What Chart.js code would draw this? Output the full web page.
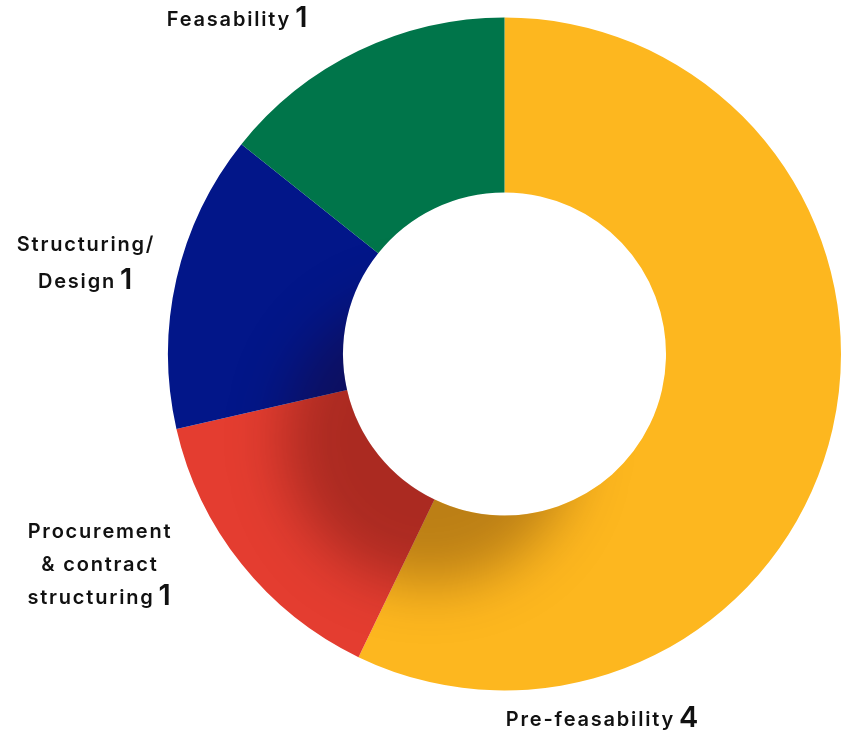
<!DOCTYPE html>
<html lang="en">
<head>
<meta charset="UTF-8">
<title>Projects by stage</title>
<script src="https://cdn.jsdelivr.net/npm/chart.js"></script>
<style>
  html, body { margin: 0; padding: 0; background: #fff; }
  .wrap { width: 841px; height: 736px; position: relative; }
</style>
</head>
<body>
<div class="wrap"><canvas id="stageChart" width="841" height="736"></canvas></div>
<script>
// data
const stages = ['Pre-feasability', 'Procurement & contract structuring', 'Structuring/ Design', 'Feasability'];
const counts = [4, 1, 1, 1];
const colors = ['#FDB71F', '#E43D30', '#021689', '#00754A'];
// label text split in lines, the count is drawn bigger after the last line
const labelLines = [
  ['Pre-feasability'],
  ['Procurement', '& contract', 'structuring'],
  ['Structuring/', 'Design'],
  ['Feasability']
];
const labelPos = [
  { x: 603, y: 720 },
  { x: 100, y: 532 },
  { x: 86, y: 245 },
  { x: 238, y: 20 }
];
const lineGap = [0, 33, 37, 0];

// soft shadow cast from the hole towards bottom-left
const ringShadow = {
  id: 'ringShadow',
  afterDatasetsDraw(chart) {
    const arc = chart.getDatasetMeta(0).data[0];
    const { x, y, innerRadius, outerRadius } = arc.getProps(['x', 'y', 'innerRadius', 'outerRadius'], true);
    const ctx = chart.ctx;
    ctx.save();
    ctx.beginPath();
    ctx.arc(x, y, outerRadius, 0, Math.PI * 2);
    ctx.arc(x, y, innerRadius, 0, Math.PI * 2, true);
    ctx.clip();
    ctx.filter = 'blur(28px)';
    ctx.fillStyle = 'rgba(40,0,0,0.30)';
    ctx.beginPath();
    ctx.arc(x - 75, y + 85, innerRadius * 0.9, 0, Math.PI * 2);
    ctx.fill();
    ctx.restore();
  }
};

const txtFont = '600 20px Inter, "Open Sans", sans-serif';
const numFont = '600 29px Inter, "Open Sans", sans-serif';

const stageLabels = {
  id: 'stageLabels',
  afterDraw(chart) {
    const ctx = chart.ctx;
    ctx.save();
    ctx.fillStyle = '#111';
    ctx.textBaseline = 'middle';
    ctx.textAlign = 'left';
    ctx.letterSpacing = '1.8px';
    labelLines.forEach((lines, i) => {
      const p = labelPos[i];
      lines.forEach((t, j) => {
        const yy = p.y + j * lineGap[i];
        const last = j === lines.length - 1;
        ctx.font = txtFont;
        const w1 = ctx.measureText(t).width;
        let w2 = 0, num = '';
        if (last) {
          num = String(counts[i]);
          ctx.font = numFont;
          w2 = ctx.measureText(num).width + 4;
        }
        const start = p.x - (w1 + w2) / 2;
        ctx.font = txtFont;
        ctx.fillText(t, start, yy);
        if (last) {
          ctx.font = numFont;
          ctx.fillText(num, start + w1 + 4, yy - 2);
        }
      });
    });
    ctx.restore();
  }
};

new Chart(document.getElementById('stageChart').getContext('2d'), {
  type: 'doughnut',
  data: {
    labels: stages,
    datasets: [{
      data: counts,
      backgroundColor: colors,
      borderWidth: 0
    }]
  },
  options: {
    responsive: false,
    animation: false,
    cutout: '48%',
    layout: { padding: { left: 168, right: 0, top: 17, bottom: 45 } },
    plugins: {
      legend: { display: false },
      tooltip: { enabled: false }
    }
  },
  plugins: [ringShadow, stageLabels]
});
</script>
</body>
</html>
